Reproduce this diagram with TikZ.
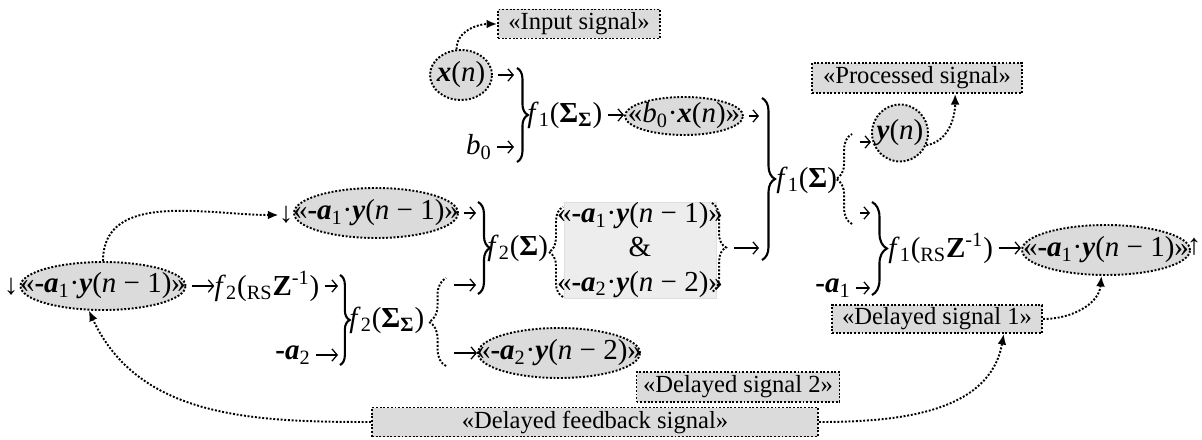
\documentclass[tikz,border=0pt]{standalone}
\usepackage{fontspec}
\setmainfont{Liberation Serif}
\usepackage{xcolor}
\usepackage{tikz}
\usetikzlibrary{positioning}
\usetikzlibrary{arrows,arrows.meta,shapes}
\usetikzlibrary{decorations.pathreplacing}
\usetikzlibrary{calc}
\definecolor{sigfill}{gray}{0.86}
\newcommand{\sigfont}{\fontsize{16.5}{19.5}\selectfont}
\newcommand{\tagfont}{\fontsize{14}{16}\selectfont}
\newcommand{\bitl}[1]{\textbf{\textit{#1}}}
\tikzstyle{sig}=[ellipse,draw=black,densely dotted,line width=1.1pt,fill=sigfill,inner sep=0pt,font=\sigfont]
\tikzstyle{tagbox}=[rectangle,draw=black,densely dotted,line width=1.1pt,fill=sigfill,inner sep=0pt,font=\tagfont]
\tikzstyle{op}=[inner sep=0pt,font=\sigfont]
\tikzstyle{edge} = [draw,line width=0.7pt,-{Straight Barb[length=3pt,width=7pt]},shorten <=3pt]
\tikzstyle{fback} = [draw,densely dotted,line width=1.1pt,-{Latex[length=6pt,width=5pt]}]
\tikzset{sumbrace/.style={draw,line width=1.2pt,decorate,decoration={brace,amplitude=#1}}}
\tikzset{splitbrace/.style={draw,densely dotted,line width=1.1pt,decorate,decoration={brace,amplitude=#1}}}
\tikzset{pairbox/.style={rectangle,fill=gray!14,draw=gray!25,inner sep=0pt,align=center,font=\sigfont}}

\begin{document}
\begin{tikzpicture}[x=0.02cm,y=-0.02cm]

  \useasboundingbox (0,0) rectangle (1202,439);

  % signals
  \foreach \x/\y/\w/\h/\name/\label in {461/75/62/50/xn/{\bitl{x}(\textit{n})}, 684/116/118/38/bx/{«\textit{b}\textsubscript{0}·\bitl{x}(\textit{n})»}, 900/133/56/57/yn/{\bitl{y}(\textit{n})}}
          \node[sig,minimum width=\w*0.02cm,minimum height=\h*0.02cm] (\name) at (\x,\y) {\makebox[0pt]{\label}};

  \foreach \x/\y/\w/\h/\name/\label in {376/213/164/50/ayt/1, 103/286/165/48/ayl/1, 1106/250/168/50/ayr/1, 559/353/162/50/ayb/2}
          \node[sig,minimum width=\w*0.02cm,minimum height=\h*0.02cm] (\name) at (\x,\y) {\makebox[0pt]{«\textbf{-}\bitl{a}\textsubscript{\label}·\bitl{y}(\textit{n} − \label)»}};

  \node[pairbox,minimum width=152*0.02cm,minimum height=96*0.02cm] (pair) at (640,250)
        {\makebox[0pt]{«\textbf{-}\bitl{a}\textsubscript{1}·\bitl{y}(\textit{n} − 1)»}\\ \&\\ \makebox[0pt]{«\textbf{-}\bitl{a}\textsubscript{2}·\bitl{y}(\textit{n} − 2)»}};

  % captions
  \foreach \x/\y/\w/\h/\name/\label in {579/24/162/29/insig/{«Input signal»}, 917/78/210/30/prc/{«Processed signal»}, 937/319/210/28/ds1/{«Delayed signal 1»}, 738/387/203/30/ds2/{«Delayed signal 2»}, 595/422/446/29/fbk/{«Delayed feedback signal»}}
          \node[tagbox,minimum width=\w*0.02cm,minimum height=\h*0.02cm] (\name) at (\x,\y) {\label};

  % operators
  \node[op,anchor=west] (f1ss) at (527,115) {\textit{f}\textsubscript{1}(\textbf{Σ}\textsubscript{\textbf{Σ}})};
  \node[op] (b0) at (479,147) {\textit{b}\textsubscript{0}};
  \node[op,anchor=west] (f1s) at (776,180) {\textit{f}\textsubscript{1}(\textbf{Σ})};
  \node[op,anchor=west] (f2s) at (487,248) {\textit{f}\textsubscript{2}(\textbf{Σ})};
  \node[op,anchor=west] (f2ss) at (349,320) {\textit{f}\textsubscript{2}(\textbf{Σ}\textsubscript{\textbf{Σ}})};
  \node[op] (f2rs) at (267,286) {\textit{f}\textsubscript{2}(\textsubscript{RS}\textbf{Z}\textsuperscript{-1})};
  \node[op,anchor=west] (f1rs) at (888,248) {\textit{f}\textsubscript{1}(\textsubscript{RS}\textbf{Z}\textsuperscript{-1})};
  \node[op] (ma2) at (293,355) {\textbf{-}\bitl{a}\textsubscript{2}};
  \node[op] (ma1) at (833,288) {\textbf{-}\bitl{a}\textsubscript{1}};
  \node[op] (dl) at (11,287) {↓};
  \node[op] (dt) at (286,215) {↓};
  \node[op] (ur) at (1194,247) {↑};

  % brace ends and arrow ends
  \foreach \name/\x/\y in {s1t/517/68, s1b/517/162, s2t/762/98, s2b/762/260, s3t/478/202, s3b/478/294, s4t/340/275, s4b/340/365, s5t/872/202, s5b/872/295,
                           p1t/563/207, p1b/563/297, p2t/712/203, p2b/712/292, p3t/446/278, p3b/446/366, p4t/852/134, p4b/852/224}
          \coordinate (\name) at (\x,\y);
  \foreach \name/\x/\y in {i1a/514/75, i1b/514/147, i2a/759/115, i2b/759/248, i3a/476/213, i3b/476/285, i4a/338/286, i4b/338/355, i5a/870/213, i5b/870/286,
                           o2/729/248, o3a/449/285, o3b/449/353, o4a/855/142, o4b/855/213}
          \coordinate (\name) at (\x,\y);

  \foreach \top/\bot/\amp in {s1t/s1b/6.2pt, s2t/s2b/7.4pt, s3t/s3b/6.8pt, s4t/s4b/5.5pt, s5t/s5b/8.5pt}
         \path[sumbrace=\amp] (\top) -- (\bot);
  \path[splitbrace=8pt] (p1b) -- (p1t);
  \path[splitbrace=8pt] (p2t) -- (p2b);
  \path[splitbrace=9.6pt] (p3b) -- (p3t);
  \path[splitbrace=9pt] (p4b) -- (p4t);

  \foreach \source/ \dest in {xn/i1a, b0/i1b, f1ss/bx.west, bx/i2a, o2/i2b, ayt/i3a, o3a/i3b, o3b/ayb.west, ayl/f2rs.west, f2rs/i4a, ma2/i4b, o4a/yn.west, o4b/i5a, ma1/i5b, f1rs/ayr.west}
         \path[edge] (\source) -- (\source -| \dest);

  % feedback
  \path[fback] (xn.100) to[out=90,in=180] (insig.west);
  \path[fback] (ayl.north) to[out=90,in=180] (dt.west);
  \path[fback] (fbk.west) to[out=180,in=-65] (ayl.240);
  \path[fback] (fbk.east) to[out=0,in=-100] ($(ds1.south)!0.63!(ds1.south east)$);
  \path[fback] (ds1.east) to[out=0,in=-95] (ayr.260);
  \path[fback] (yn.-25) to[out=10,in=-90] ($(prc.south)!0.36!(prc.south east)$);

\end{tikzpicture}
\end{document}
